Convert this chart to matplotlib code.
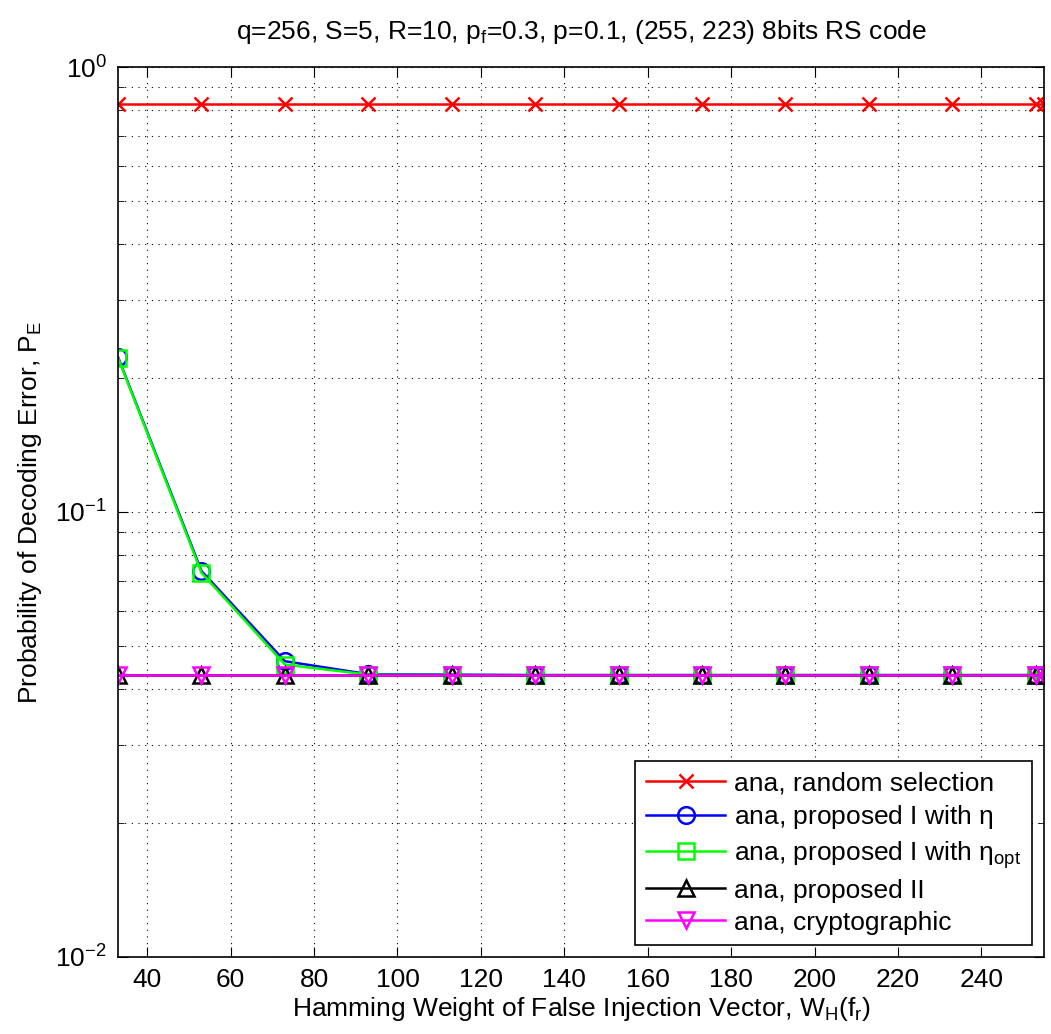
import matplotlib.pyplot as plt
import numpy as np

plt.rcParams['font.family'] = ['Liberation Sans', 'DejaVu Sans']
plt.rcParams['mathtext.fontset'] = 'custom'
plt.rcParams['mathtext.rm'] = 'Liberation Sans'
plt.rcParams['mathtext.it'] = 'Liberation Sans'

# Hamming weight of the false injection vector
weights = [33, 53, 73, 93, 113, 133, 153, 173, 193, 213, 233, 253, 255]

pe_random = [0.826] * 13
pe_prop1_eta = [0.223, 0.0737, 0.0462, 0.0432, 0.0431, 0.0430, 0.0430,
                0.0430, 0.0430, 0.0430, 0.0430, 0.0430, 0.0430]
pe_prop1_opt = [0.222, 0.0730, 0.0454, 0.0431, 0.0430, 0.0430, 0.0430,
                0.0430, 0.0430, 0.0430, 0.0430, 0.0430, 0.0430]
pe_prop2 = [0.0430] * 13
pe_crypto = [0.0430] * 13

series = [
    (pe_random, '#ff0000', 'x', 'ana, random selection'),
    (pe_prop1_eta, '#0000ff', 'o', r'ana, proposed I with $\eta$'),
    (pe_prop1_opt, '#00ff00', 's', r'ana, proposed I with $\eta_{\rm opt}$'),
    (pe_prop2, '#000000', '^', 'ana, proposed II'),
    (pe_crypto, '#ff00ff', 'v', 'ana, cryptographic'),
]

fig = plt.figure(figsize=(10.51, 10.34), dpi=100)
ax = fig.add_axes([0.1123, 0.0745, 0.8810, 0.8607])

for vals, col, mk, lab in series:
    ms = {'x': 10, 'o': 12, 's': 11, '^': 12, 'v': 12}[mk]
    ax.semilogy(weights, vals, color=col, marker=mk, markersize=ms,
                markerfacecolor='none', markeredgewidth=1.8, linewidth=1.8,
                label=lab)

ax.set_xlim(33, 255)
ax.set_ylim(1e-2, 1e0)
ax.set_xticks(np.arange(40, 241, 20))
ax.grid(True, which='major', linestyle=(0, (1, 5)), color='k', linewidth=0.8)
ax.grid(True, which='minor', axis='y', linestyle=(0, (1, 5)), color='k', linewidth=0.8)

ax.tick_params(which='both', direction='in', top=True, right=True, labelsize=19, pad=8)
ax.tick_params(which='major', length=7)
ax.tick_params(which='minor', length=4)
for s in ax.spines.values():
    s.set_linewidth(1.2)

ax.set_title(r'q=256, S=5, R=10, p$_f$=0.3, p=0.1, (255, 223) 8bits RS code',
             fontsize=19, pad=20)
ax.set_xlabel(r'Hamming Weight of False Injection Vector, W$_H$(f$_r$)', fontsize=19,
              labelpad=2)
ax.set_ylabel(r'Probability of Decoding Error, P$_E$', fontsize=19, labelpad=8)

leg = ax.legend(loc='lower right', fontsize=19, handlelength=3.0, handletextpad=0.35,
                fancybox=False, framealpha=1, edgecolor='k', borderaxespad=0.45,
                labelspacing=0.3, markerscale=1.0)
leg.get_frame().set_linewidth(1.2)

fig.savefig('out.png', dpi=100)
